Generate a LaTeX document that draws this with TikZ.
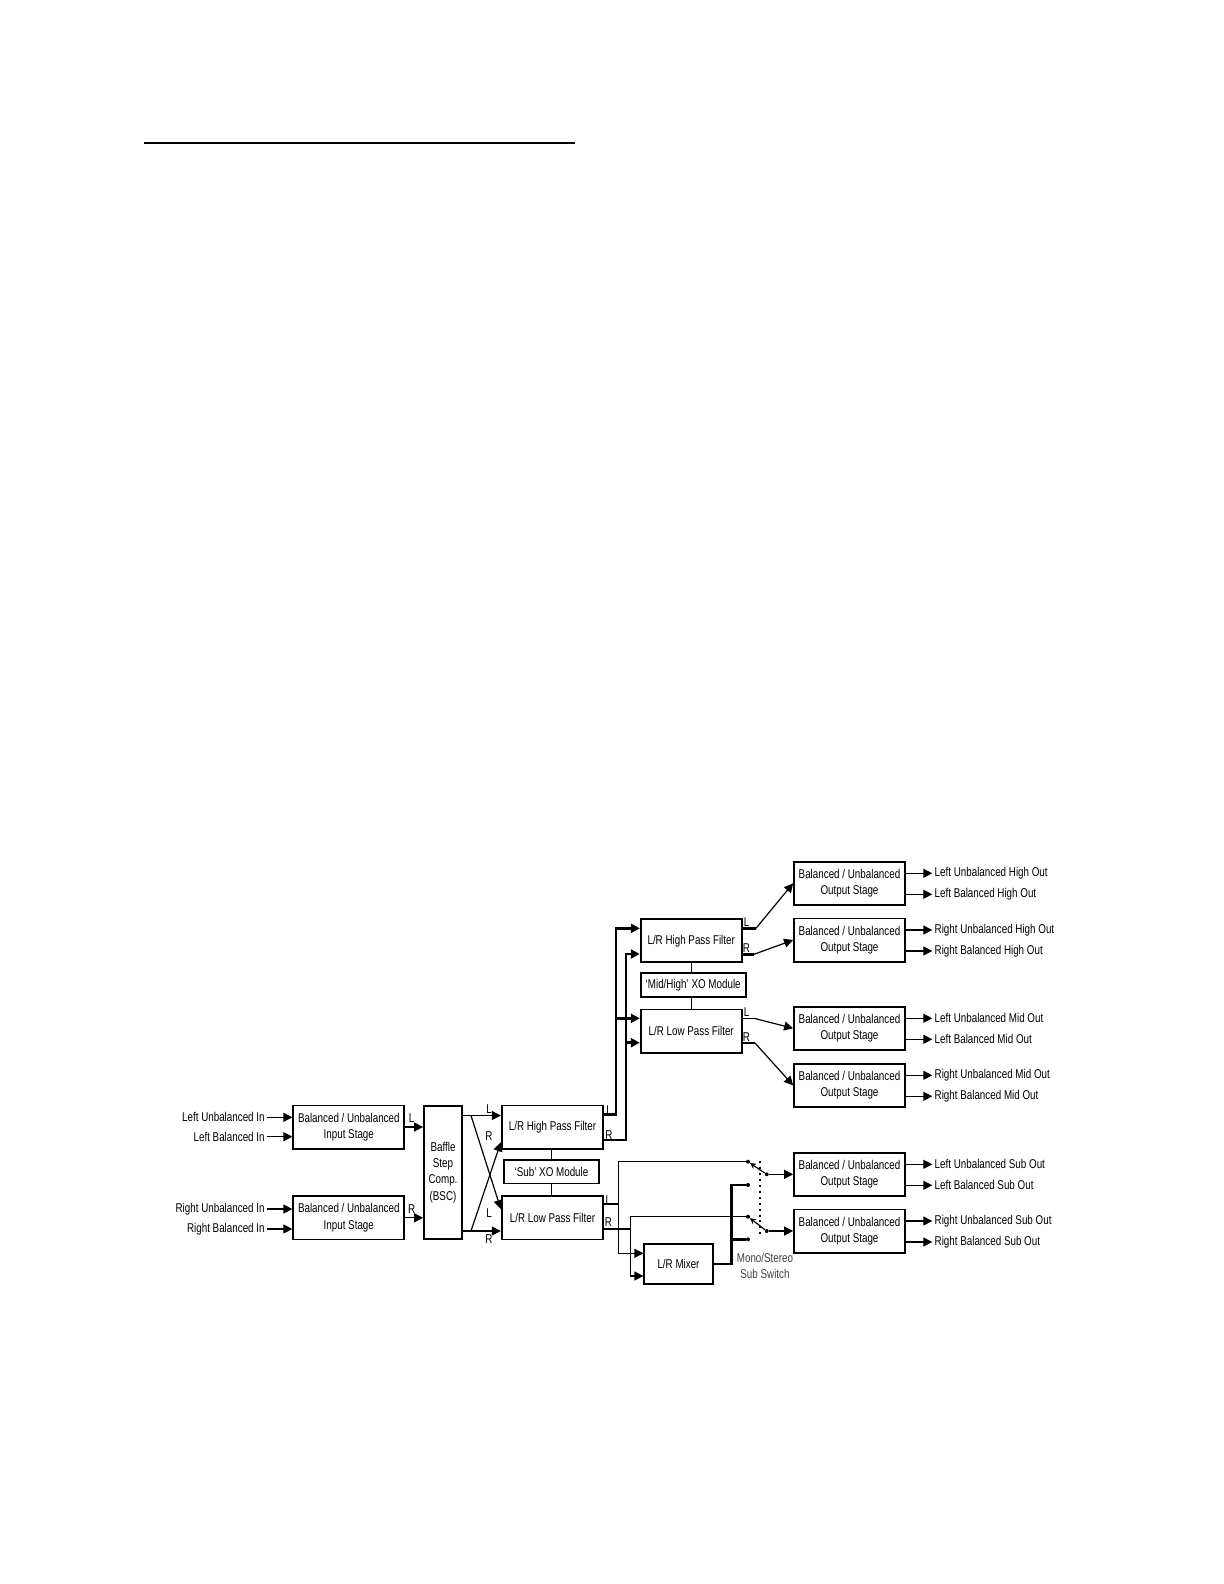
\documentclass[tikz,border=0pt]{standalone}
\usepackage{fontspec}
\setmainfont{Liberation Sans}[FakeStretch=0.77]
\usetikzlibrary{arrows.meta,calc,positioning}
\tikzset{
  blk/.style={draw,line width=0.9pt,align=center,inner sep=1pt,font=\fontsize{6.4}{8.2}\selectfont},
  stage/.style={blk,minimum width=55.5bp,minimum height=21.6bp},
  filt/.style={blk,minimum width=50.8bp,minimum height=21.6bp},
  xo/.style={blk,minimum height=11.7bp},
  lbl/.style={inner sep=1pt,font=\fontsize{6.4}{8.2}\selectfont},
  tag/.style={inner sep=0pt,font=\fontsize{6.4}{8.2}\selectfont},
  wire/.style={line width=0.6pt},
  bus/.style={line width=1.4pt},
  arr/.style={wire,-{Triangle[length=4.5pt,width=4.5pt]}},
  busarr/.style={bus,-{Triangle[length=4.5pt,width=4.5pt]}},
  blade/.style={wire,-{Stealth[length=3pt,width=3pt]}},
  contact/.style={circle,fill=black,inner sep=0pt,minimum size=2pt},
}
\begin{document}
\begin{tikzpicture}[x=0.5bp,y=-0.5bp]
    \useasboundingbox (0,0) rectangle (1224,1584);
    \draw[line width=1bp] (144,142.7) -- (575,142.7);
    % ---- input stages and BSC ----
    \node[stage] (inL) at (348.8,1127) {Balanced / Unbalanced\\Input Stage};
    \node[stage] (inR) at (348.8,1217.8) {Balanced / Unbalanced\\Input Stage};
    \node[blk,minimum width=19bp,minimum height=66.7bp] (bsc) at (443,1172.4) {Baffle\\Step\\Comp.\\(BSC)};
    \node[lbl,anchor=east] (lui) at (267,1117.3) {Left Unbalanced In};
    \node[lbl,anchor=east] (lbi) at (267,1136.7) {Left Balanced In};
    \node[lbl,anchor=east] (rui) at (267,1209) {Right Unbalanced In};
    \node[lbl,anchor=east] (rbi) at (267,1229) {Right Balanced In};
    \foreach \n in {lui,lbi} \draw[arr] (\n.east) -- (\n.east -| inL.west);
    \foreach \n in {rui,rbi} \draw[arr] (\n.east) -- (\n.east -| inR.west);
    \draw[arr] (inL.east) -- (inL.east -| bsc.west);
    \draw[arr] (inR.east) -- (inR.east -| bsc.west);
    \node[tag] at (411.7,1118) {L};
    \node[tag] at (411.7,1209) {R};
    % ---- 'sub' crossover ----
    \node[filt] (hpS) at (552.5,1127) {L/R High Pass Filter};
    \node[xo,minimum width=47.5bp] (xoS) at (551.5,1171.7) {‘Sub’ XO Module};
    \node[filt] (lpS) at (552.5,1217.8) {L/R Low Pass Filter};
    \draw[wire] (xoS.north) -- (xoS.north |- hpS.south);
    \draw[wire] (xoS.south) -- (xoS.south |- lpS.north);
    \coordinate (xT) at (471,1115.5);
    \coordinate (xB) at (471,1231);
    \coordinate (hpSr) at (0,1142.3);
    \coordinate (lpSl) at (0,1209);
    \draw[arr] (bsc.east |- xT) -- (hpS.west |- xT);
    \draw[arr] (bsc.east |- xB) -- (lpS.west |- xB);
    \draw[arr] (xT) -- (lpS.west |- lpSl);
    \draw[arr] (xB) -- (hpS.west |- hpSr);
    \node[tag] at (489,1109) {L};
    \node[tag] at (489,1136) {R};
    \node[tag] at (489,1213) {L};
    \node[tag] at (489,1239) {R};
    % ---- 'mid/high' crossover ----
    \node[filt,minimum width=50.5bp] (hpM) at (691.2,940.7) {L/R High Pass Filter};
    \node[xo,minimum width=52.5bp] (xoM) at (693.2,985) {‘Mid/High’ XO Module};
    \node[filt,minimum width=50.5bp] (lpM) at (691.2,1031) {L/R Low Pass Filter};
    \draw[wire] (hpM.south) -- (hpM.south |- xoM.north);
    \draw[wire] (hpM.south |- xoM.south) -- (hpM.south |- lpM.north);
    \coordinate (hL) at (616,928.3);
    \coordinate (hR) at (626,954);
    \coordinate (lL) at (616,1018.3);
    \coordinate (lR) at (626,1042.7);
    \draw[busarr] (hpS.east |- 0,1114.5) -| (hL) -- (hL -| hpM.west);
    \draw[busarr] (hpS.east |- 0,1140) -| (hR) -- (hR -| hpM.west);
    \draw[busarr] (lL) -- (lL -| lpM.west);
    \draw[busarr] (lR) -- (lR -| lpM.west);
    \node[tag] at (609,1110) {L};
    \node[tag] at (609,1135) {R};
    % ---- output stages ----
    \foreach \b/\y in {out1/883.3,out2/940,out3/1028.3,out4/1085.3,out5/1174.3,out6/1231}
      \node[stage] (\b) at (849.5,\y) {Balanced / Unbalanced\\Output Stage};
    \foreach \b/\ta/\tb in {out1/Left Unbalanced High Out/Left Balanced High Out,
                            out2/Right Unbalanced High Out/Right Balanced High Out,
                            out3/Left Unbalanced Mid Out/Left Balanced Mid Out,
                            out4/Right Unbalanced Mid Out/Right Balanced Mid Out,
                            out5/Left Unbalanced Sub Out/Left Balanced Sub Out,
                            out6/Right Unbalanced Sub Out/Right Balanced Sub Out} {
      \node[lbl,anchor=west] (\b-a) at ([xshift=13.2bp,yshift=5bp]\b.east) {\ta};
      \node[lbl,anchor=west] (\b-b) at ([xshift=13.2bp,yshift=-5.5bp]\b.east) {\tb};
      \draw[arr] (\b-a.west -| \b.east) -- (\b-a.west);
      \draw[arr] (\b-b.west -| \b.east) -- (\b-b.west);
    }
    \coordinate (mHL) at (756,928.3);
    \coordinate (mHR) at (754,954.3);
    \coordinate (mLL) at (754,1018.3);
    \coordinate (mLR) at (755,1043);
    \draw[bus] (hpM.east |- mHL) -- (mHL);
    \draw[bus] (hpM.east |- mHR) -- (mHR);
    \draw[wire] (lpM.east |- mLL) -- (mLL);
    \draw[bus] (lpM.east |- mLR) -- (mLR);
    \draw[arr] (mHL) -- (out1.west);
    \draw[arr] (mHR) -- (out2.west);
    \draw[arr] (mLL) -- (out3.west);
    \draw[arr] (mLR) -- (out4.west);
    \node[tag] at (746.7,921.7) {L};
    \node[tag] at (746.5,947.7) {R};
    \node[tag] at (746.5,1011.7) {L};
    \node[tag] at (746.5,1036.7) {R};
    % ---- sub outputs: mixer and mono/stereo switch ----
    \node[blk,minimum width=34.2bp,minimum height=20bp] (mix) at (678.5,1264) {L/R Mixer};
    \node[contact] (cA) at (748,1161.7) {};
    \node[contact] (cB) at (748,1185) {};
    \node[contact] (cC) at (748,1216.7) {};
    \node[contact] (cD) at (748,1239.3) {};
    \node[contact] (pA) at (766.7,1174.3) {};
    \node[contact] (pB) at (766.7,1231) {};
    \coordinate (jsL) at (618.3,1204);
    \coordinate (jsR) at (630.7,1229);
    \coordinate (mxL) at (0,1253.3);
    \coordinate (mxR) at (0,1276);
    \coordinate (mo) at (731.7,1264);
    \draw[wire] (lpS.east |- jsL) -- (jsL);
    \draw[wire] (lpS.east |- jsR) -- (jsR);
    \draw[wire] (cA) -| (jsL);
    \draw[wire] (cC) -| (jsR);
    \draw[arr] (jsL) |- (mix.west |- mxL);
    \draw[arr] (jsR) |- (mix.west |- mxR);
    \draw[bus] (mix.east) -- (mo) |- (cB);
    \draw[bus] (mo |- cD) -- (cD);
    \draw[blade] (pA) -- (cA);
    \draw[blade] (pB) -- (cC);
    \draw[arr] (pA) -- (out5.west);
    \draw[arr] (pB) -- (out6.west);
    \draw[line width=1pt,dotted] (760,1160.7) -- (760,1236.7);
    \node[tag] at (608.3,1200) {L};
    \node[tag] at (608.3,1222.3) {R};
    \node[lbl,align=center,text=black!75] (sw) at (765,1266) {Mono/Stereo\\Sub Switch};
\end{tikzpicture}
\end{document}
